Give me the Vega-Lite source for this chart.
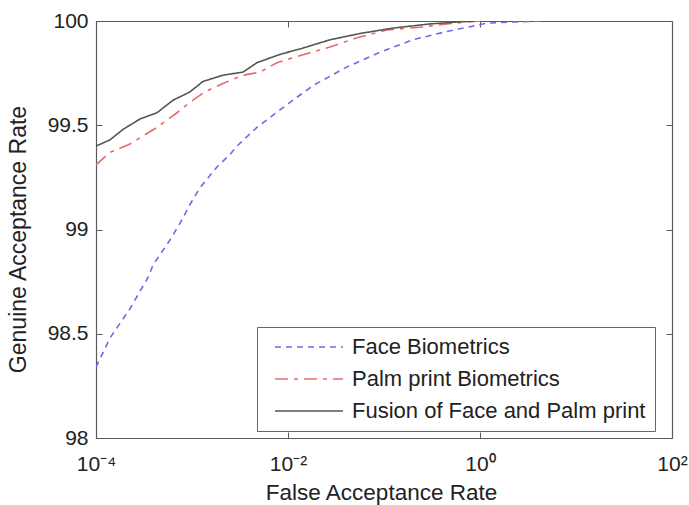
{
  "$schema": "https://vega.github.io/schema/vega-lite/v6.json",
  "width": 576,
  "height": 417,
  "autosize": {"type": "none"},
  "padding": {"left": 96, "top": 21, "right": 17, "bottom": 67},
  "background": "white",
  "config": {
    "view": {"stroke": null},
    "font": "Liberation Sans",
    "axis": {
      "grid": false,
      "domainColor": "#5a5a5a",
      "domainWidth": 1.2,
      "tickColor": "#5a5a5a",
      "tickWidth": 1,
      "tickSize": -6,
      "labelColor": "#222222",
      "labelFont": "Liberation Sans",
      "titleFont": "Liberation Sans",
      "titleColor": "#222222",
      "titleFontWeight": "normal",
      "titleFontSize": 22.5
    }
  },
  "data": {
    "values": [
      {"series": "Face Biometrics", "far": 0.0001, "gar": 98.34},
      {"series": "Face Biometrics", "far": 0.00014, "gar": 98.48},
      {"series": "Face Biometrics", "far": 0.000226, "gar": 98.62},
      {"series": "Face Biometrics", "far": 0.000348, "gar": 98.77},
      {"series": "Face Biometrics", "far": 0.000393, "gar": 98.83},
      {"series": "Face Biometrics", "far": 0.00059, "gar": 98.95},
      {"series": "Face Biometrics", "far": 0.00075, "gar": 99.03},
      {"series": "Face Biometrics", "far": 0.000953, "gar": 99.12},
      {"series": "Face Biometrics", "far": 0.00121, "gar": 99.2},
      {"series": "Face Biometrics", "far": 0.00182, "gar": 99.3},
      {"series": "Face Biometrics", "far": 0.00249, "gar": 99.36},
      {"series": "Face Biometrics", "far": 0.00294, "gar": 99.4},
      {"series": "Face Biometrics", "far": 0.00475, "gar": 99.49},
      {"series": "Face Biometrics", "far": 0.0105, "gar": 99.61},
      {"series": "Face Biometrics", "far": 0.0182, "gar": 99.69},
      {"series": "Face Biometrics", "far": 0.0412, "gar": 99.78},
      {"series": "Face Biometrics", "far": 0.0908, "gar": 99.85},
      {"series": "Face Biometrics", "far": 0.2, "gar": 99.91},
      {"series": "Face Biometrics", "far": 0.453, "gar": 99.95},
      {"series": "Face Biometrics", "far": 0.733, "gar": 99.97},
      {"series": "Face Biometrics", "far": 1.18, "gar": 99.99},
      {"series": "Face Biometrics", "far": 2.21, "gar": 99.995},
      {"series": "Face Biometrics", "far": 4.22, "gar": 100},
      {"series": "Palm print Biometrics", "far": 0.0001, "gar": 99.31},
      {"series": "Palm print Biometrics", "far": 0.00014, "gar": 99.37},
      {"series": "Palm print Biometrics", "far": 0.000226, "gar": 99.41},
      {"series": "Palm print Biometrics", "far": 0.000432, "gar": 99.49},
      {"series": "Palm print Biometrics", "far": 0.000698, "gar": 99.56},
      {"series": "Palm print Biometrics", "far": 0.000953, "gar": 99.61},
      {"series": "Palm print Biometrics", "far": 0.00136, "gar": 99.66},
      {"series": "Palm print Biometrics", "far": 0.0021, "gar": 99.7},
      {"series": "Palm print Biometrics", "far": 0.0034, "gar": 99.74},
      {"series": "Palm print Biometrics", "far": 0.00511, "gar": 99.755},
      {"series": "Palm print Biometrics", "far": 0.00767, "gar": 99.8},
      {"series": "Palm print Biometrics", "far": 0.0124, "gar": 99.83},
      {"series": "Palm print Biometrics", "far": 0.0274, "gar": 99.875},
      {"series": "Palm print Biometrics", "far": 0.0524, "gar": 99.92},
      {"series": "Palm print Biometrics", "far": 0.107, "gar": 99.957},
      {"series": "Palm print Biometrics", "far": 0.237, "gar": 99.97},
      {"series": "Palm print Biometrics", "far": 0.453, "gar": 99.986},
      {"series": "Palm print Biometrics", "far": 0.733, "gar": 99.995},
      {"series": "Palm print Biometrics", "far": 1.0, "gar": 100},
      {"series": "Fusion of Face and Palm print", "far": 0.0001, "gar": 99.4},
      {"series": "Fusion of Face and Palm print", "far": 0.00014, "gar": 99.43},
      {"series": "Fusion of Face and Palm print", "far": 0.000191, "gar": 99.48},
      {"series": "Fusion of Face and Palm print", "far": 0.000287, "gar": 99.53},
      {"series": "Fusion of Face and Palm print", "far": 0.000432, "gar": 99.56},
      {"series": "Fusion of Face and Palm print", "far": 0.000634, "gar": 99.62},
      {"series": "Fusion of Face and Palm print", "far": 0.000953, "gar": 99.66},
      {"series": "Fusion of Face and Palm print", "far": 0.0013, "gar": 99.71},
      {"series": "Fusion of Face and Palm print", "far": 0.0021, "gar": 99.74},
      {"series": "Fusion of Face and Palm print", "far": 0.0034, "gar": 99.755},
      {"series": "Fusion of Face and Palm print", "far": 0.00475, "gar": 99.8},
      {"series": "Fusion of Face and Palm print", "far": 0.00826, "gar": 99.84},
      {"series": "Fusion of Face and Palm print", "far": 0.0143, "gar": 99.87},
      {"series": "Fusion of Face and Palm print", "far": 0.0274, "gar": 99.91},
      {"series": "Fusion of Face and Palm print", "far": 0.0562, "gar": 99.94},
      {"series": "Fusion of Face and Palm print", "far": 0.124, "gar": 99.966},
      {"series": "Fusion of Face and Palm print", "far": 0.301, "gar": 99.986},
      {"series": "Fusion of Face and Palm print", "far": 0.575, "gar": 99.995},
      {"series": "Fusion of Face and Palm print", "far": 0.887, "gar": 100}
    ]
  },
  "layer": [
    {
      "mark": {"type": "line", "strokeWidth": 1.6, "clip": true},
      "encoding": {
        "x": {
          "field": "far",
          "type": "quantitative",
          "scale": {"type": "log", "domain": [0.0001, 100]},
          "axis": {
            "orient": "bottom",
            "values": [0.0001, 0.01, 1, 100],
            "tickCount": 20,
            "labelOverlap": false,
            "labelExpr": "datum.value < 0.001 ? '10⁻⁴' : datum.value < 0.1 ? '10⁻²' : datum.value < 10 ? '10⁰' : '10²'",
            "labelFontSize": 21,
            "labelFlush": false,
            "labelPadding": 21,
            "title": "False Acceptance Rate",
            "titleX": 285,
            "titlePadding": 7
          }
        },
        "y": {
          "field": "gar",
          "type": "quantitative",
          "scale": {"domain": [98, 100]},
          "axis": {
            "orient": "left",
            "values": [98, 98.5, 99, 99.5, 100],
            "format": "~g",
            "labelFontSize": 21,
            "labelFlush": false,
            "labelPadding": 14,
            "title": "Genuine Acceptance Rate",
            "titleFontSize": 23,
            "titleY": 218,
            "titlePadding": 17
          }
        },
        "color": {
          "field": "series",
          "type": "nominal",
          "sort": ["Face Biometrics", "Palm print Biometrics", "Fusion of Face and Palm print"],
          "scale": {
            "domain": ["Face Biometrics", "Palm print Biometrics", "Fusion of Face and Palm print"],
            "range": ["#6b6be8", "#e86b6b", "#555555"]
          },
          "legend": {
            "orient": "none",
            "legendX": 161,
            "legendY": 306,
            "title": null,
            "symbolType": "M-0.2,0H6.6",
            "symbolSize": 400,
            "symbolStrokeWidth": 1.5,
            "labelFontSize": 22,
            "labelColor": "#222222",
            "labelLimit": 400,
            "labelOffset": 64,
            "strokeColor": "#666666",
            "fillColor": "white",
            "padding": 9,
            "rowPadding": 10
          }
        },
        "strokeDash": {
          "field": "series",
          "type": "nominal",
          "sort": ["Face Biometrics", "Palm print Biometrics", "Fusion of Face and Palm print"],
          "scale": {
            "domain": ["Face Biometrics", "Palm print Biometrics", "Fusion of Face and Palm print"],
            "range": [[6, 5], [13, 6, 4, 6], [1, 0]]
          },
          "legend": {
            "orient": "none",
            "legendX": 161,
            "legendY": 306,
            "title": null,
            "symbolType": "M-0.2,0H6.6",
            "symbolSize": 400,
            "symbolStrokeWidth": 1.5,
            "labelFontSize": 22,
            "labelColor": "#222222",
            "labelLimit": 400,
            "labelOffset": 64,
            "strokeColor": "#666666",
            "fillColor": "white",
            "padding": 9,
            "rowPadding": 10
          }
        }
      }
    },
    {
      "mark": {"type": "point", "opacity": 0},
      "encoding": {
        "x": {
          "field": "far",
          "type": "quantitative",
          "axis": {"orient": "top", "values": [0.0001, 0.01, 1, 100], "tickCount": 20, "labels": false, "title": null}
        },
        "y": {
          "field": "gar",
          "type": "quantitative",
          "axis": {"orient": "right", "values": [98, 98.5, 99, 99.5, 100], "labels": false, "title": null}
        }
      }
    }
  ],
  "resolve": {"axis": {"x": "independent", "y": "independent"}}
}
